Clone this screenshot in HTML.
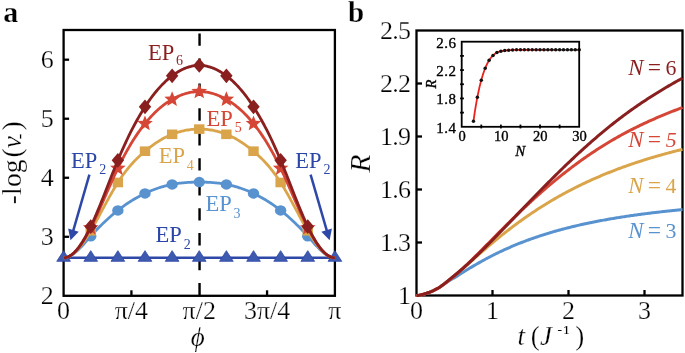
<!DOCTYPE html>
<html><head><meta charset="utf-8"><style>
html,body{margin:0;padding:0;background:#fff;}
body{width:685px;height:353px;overflow:hidden;font-family:"Liberation Serif",serif;}
svg{display:block;will-change:transform;}
</style></head><body>
<svg width="685" height="353" viewBox="0 0 685 353">
<rect x="63.6" y="30.0" width="271.30" height="265.80" fill="none" stroke="#000" stroke-width="2.3"/>
<line x1="63.6" y1="236.79" x2="69.10" y2="236.79" stroke="#000" stroke-width="2.3"/>
<line x1="63.6" y1="177.76" x2="69.10" y2="177.76" stroke="#000" stroke-width="2.3"/>
<line x1="63.6" y1="118.73" x2="69.10" y2="118.73" stroke="#000" stroke-width="2.3"/>
<line x1="63.6" y1="59.70" x2="69.10" y2="59.70" stroke="#000" stroke-width="2.3"/>
<line x1="131.42" y1="295.8" x2="131.42" y2="290.30" stroke="#000" stroke-width="2.3"/>
<line x1="267.07" y1="295.8" x2="267.07" y2="290.30" stroke="#000" stroke-width="2.3"/>
<line x1="199.55" y1="33.5" x2="199.55" y2="295.8" stroke="#000" stroke-width="2.4" stroke-dasharray="12.3 12.65"/>
<line x1="63.6" y1="257.8" x2="334.9" y2="257.8" stroke="#2E48A8" stroke-width="2.6"/>
<path d="M63.60,250.64 L70.45,261.34 L56.75,261.34Z" fill="#3E5AAF" stroke="#2E48A8" stroke-width="0.8" stroke-linejoin="miter"/>
<path d="M90.73,250.64 L97.58,261.34 L83.88,261.34Z" fill="#3E5AAF" stroke="#2E48A8" stroke-width="0.8" stroke-linejoin="miter"/>
<path d="M117.86,250.64 L124.71,261.34 L111.01,261.34Z" fill="#3E5AAF" stroke="#2E48A8" stroke-width="0.8" stroke-linejoin="miter"/>
<path d="M144.99,250.64 L151.84,261.34 L138.14,261.34Z" fill="#3E5AAF" stroke="#2E48A8" stroke-width="0.8" stroke-linejoin="miter"/>
<path d="M172.12,250.64 L178.97,261.34 L165.27,261.34Z" fill="#3E5AAF" stroke="#2E48A8" stroke-width="0.8" stroke-linejoin="miter"/>
<path d="M199.25,250.64 L206.10,261.34 L192.40,261.34Z" fill="#3E5AAF" stroke="#2E48A8" stroke-width="0.8" stroke-linejoin="miter"/>
<path d="M226.38,250.64 L233.23,261.34 L219.53,261.34Z" fill="#3E5AAF" stroke="#2E48A8" stroke-width="0.8" stroke-linejoin="miter"/>
<path d="M253.51,250.64 L260.36,261.34 L246.66,261.34Z" fill="#3E5AAF" stroke="#2E48A8" stroke-width="0.8" stroke-linejoin="miter"/>
<path d="M280.64,250.64 L287.49,261.34 L273.79,261.34Z" fill="#3E5AAF" stroke="#2E48A8" stroke-width="0.8" stroke-linejoin="miter"/>
<path d="M307.77,250.64 L314.62,261.34 L300.92,261.34Z" fill="#3E5AAF" stroke="#2E48A8" stroke-width="0.8" stroke-linejoin="miter"/>
<path d="M334.90,250.64 L341.75,261.34 L328.05,261.34Z" fill="#3E5AAF" stroke="#2E48A8" stroke-width="0.8" stroke-linejoin="miter"/>
<path d="M63.60,257.80 L64.96,257.71 L66.33,257.46 L67.69,257.06 L69.05,256.51 L70.42,255.82 L71.78,255.01 L73.14,254.09 L74.51,253.05 L75.87,251.93 L77.23,250.71 L78.60,249.43 L79.96,248.07 L81.32,246.66 L82.69,245.20 L84.05,243.71 L85.41,242.19 L86.78,240.66 L88.14,239.11 L89.50,237.57 L90.87,236.05 L92.23,234.54 L93.59,233.06 L94.96,231.60 L96.32,230.16 L97.68,228.74 L99.05,227.35 L100.41,225.98 L101.77,224.63 L103.14,223.30 L104.50,222.00 L105.86,220.71 L107.23,219.45 L108.59,218.22 L109.95,217.00 L111.32,215.81 L112.68,214.64 L114.04,213.49 L115.41,212.37 L116.77,211.26 L118.13,210.19 L119.50,209.13 L120.86,208.10 L122.22,207.09 L123.59,206.10 L124.95,205.13 L126.31,204.19 L127.68,203.26 L129.04,202.36 L130.40,201.48 L131.77,200.63 L133.13,199.79 L134.49,198.98 L135.86,198.18 L137.22,197.41 L138.58,196.66 L139.95,195.93 L141.31,195.22 L142.67,194.53 L144.04,193.86 L145.40,193.21 L146.76,192.58 L148.13,191.97 L149.49,191.38 L150.85,190.81 L152.22,190.26 L153.58,189.73 L154.94,189.21 L156.31,188.72 L157.67,188.25 L159.03,187.79 L160.40,187.36 L161.76,186.94 L163.12,186.55 L164.49,186.17 L165.85,185.81 L167.21,185.47 L168.58,185.15 L169.94,184.85 L171.30,184.56 L172.67,184.30 L174.03,184.05 L175.39,183.82 L176.76,183.60 L178.12,183.41 L179.48,183.23 L180.85,183.06 L182.21,182.91 L183.57,182.77 L184.94,182.65 L186.30,182.55 L187.66,182.45 L189.03,182.37 L190.39,182.30 L191.75,182.24 L193.12,182.19 L194.48,182.15 L195.84,182.13 L197.21,182.11 L198.57,182.10 L199.93,182.10 L201.29,182.11 L202.66,182.13 L204.02,182.15 L205.38,182.19 L206.75,182.24 L208.11,182.30 L209.47,182.37 L210.84,182.45 L212.20,182.55 L213.56,182.65 L214.93,182.77 L216.29,182.91 L217.65,183.06 L219.02,183.23 L220.38,183.41 L221.74,183.60 L223.11,183.82 L224.47,184.05 L225.83,184.30 L227.20,184.56 L228.56,184.85 L229.92,185.15 L231.29,185.47 L232.65,185.81 L234.01,186.17 L235.38,186.55 L236.74,186.94 L238.10,187.36 L239.47,187.79 L240.83,188.25 L242.19,188.72 L243.56,189.21 L244.92,189.73 L246.28,190.26 L247.65,190.81 L249.01,191.38 L250.37,191.97 L251.74,192.58 L253.10,193.21 L254.46,193.86 L255.83,194.53 L257.19,195.22 L258.55,195.93 L259.92,196.66 L261.28,197.41 L262.64,198.18 L264.01,198.98 L265.37,199.79 L266.73,200.63 L268.10,201.48 L269.46,202.36 L270.82,203.26 L272.19,204.19 L273.55,205.13 L274.91,206.10 L276.28,207.09 L277.64,208.10 L279.00,209.13 L280.37,210.19 L281.73,211.26 L283.09,212.37 L284.46,213.49 L285.82,214.64 L287.18,215.81 L288.55,217.00 L289.91,218.22 L291.27,219.45 L292.64,220.71 L294.00,222.00 L295.36,223.30 L296.73,224.63 L298.09,225.98 L299.45,227.35 L300.82,228.74 L302.18,230.16 L303.54,231.60 L304.91,233.06 L306.27,234.54 L307.63,236.05 L309.00,237.57 L310.36,239.11 L311.72,240.66 L313.09,242.19 L314.45,243.71 L315.81,245.20 L317.18,246.66 L318.54,248.07 L319.90,249.43 L321.27,250.71 L322.63,251.93 L323.99,253.05 L325.36,254.09 L326.72,255.01 L328.08,255.82 L329.45,256.51 L330.81,257.06 L332.17,257.46 L333.54,257.71 L334.90,257.80" fill="none" stroke="#5892CF" stroke-width="2.8" stroke-linejoin="round"/>
<ellipse cx="90.73" cy="236.20" rx="5.7" ry="5.25" fill="#5892CF"/>
<ellipse cx="117.86" cy="210.40" rx="5.7" ry="5.25" fill="#5892CF"/>
<ellipse cx="144.99" cy="193.40" rx="5.7" ry="5.25" fill="#5892CF"/>
<ellipse cx="172.12" cy="184.40" rx="5.7" ry="5.25" fill="#5892CF"/>
<ellipse cx="199.25" cy="182.10" rx="5.7" ry="5.25" fill="#5892CF"/>
<ellipse cx="226.38" cy="184.40" rx="5.7" ry="5.25" fill="#5892CF"/>
<ellipse cx="253.51" cy="193.40" rx="5.7" ry="5.25" fill="#5892CF"/>
<ellipse cx="280.64" cy="210.40" rx="5.7" ry="5.25" fill="#5892CF"/>
<ellipse cx="307.77" cy="236.20" rx="5.7" ry="5.25" fill="#5892CF"/>
<path d="M63.60,257.80 L64.96,257.71 L66.33,257.45 L67.69,257.03 L69.05,256.45 L70.42,255.71 L71.78,254.83 L73.14,253.80 L74.51,252.65 L75.87,251.36 L77.23,249.96 L78.60,248.44 L79.96,246.80 L81.32,245.07 L82.69,243.24 L84.05,241.32 L85.41,239.31 L86.78,237.23 L88.14,235.07 L89.50,232.85 L90.87,230.57 L92.23,228.23 L93.59,225.85 L94.96,223.43 L96.32,220.97 L97.68,218.49 L99.05,215.98 L100.41,213.46 L101.77,210.93 L103.14,208.39 L104.50,205.86 L105.86,203.33 L107.23,200.83 L108.59,198.34 L109.95,195.88 L111.32,193.46 L112.68,191.08 L114.04,188.74 L115.41,186.46 L116.77,184.23 L118.13,182.07 L119.50,179.98 L120.86,177.96 L122.22,176.01 L123.59,174.12 L124.95,172.29 L126.31,170.52 L127.68,168.81 L129.04,167.15 L130.40,165.55 L131.77,164.00 L133.13,162.50 L134.49,161.04 L135.86,159.63 L137.22,158.27 L138.58,156.94 L139.95,155.66 L141.31,154.41 L142.67,153.19 L144.04,152.01 L145.40,150.86 L146.76,149.74 L148.13,148.64 L149.49,147.58 L150.85,146.54 L152.22,145.54 L153.58,144.57 L154.94,143.62 L156.31,142.70 L157.67,141.82 L159.03,140.96 L160.40,140.14 L161.76,139.34 L163.12,138.58 L164.49,137.84 L165.85,137.14 L167.21,136.47 L168.58,135.83 L169.94,135.21 L171.30,134.63 L172.67,134.08 L174.03,133.57 L175.39,133.08 L176.76,132.62 L178.12,132.19 L179.48,131.79 L180.85,131.42 L182.21,131.08 L183.57,130.77 L184.94,130.49 L186.30,130.23 L187.66,130.00 L189.03,129.80 L190.39,129.62 L191.75,129.47 L193.12,129.35 L194.48,129.25 L195.84,129.18 L197.21,129.13 L198.57,129.10 L199.93,129.10 L201.29,129.13 L202.66,129.18 L204.02,129.25 L205.38,129.35 L206.75,129.47 L208.11,129.62 L209.47,129.80 L210.84,130.00 L212.20,130.23 L213.56,130.49 L214.93,130.77 L216.29,131.08 L217.65,131.42 L219.02,131.79 L220.38,132.19 L221.74,132.62 L223.11,133.08 L224.47,133.57 L225.83,134.08 L227.20,134.63 L228.56,135.21 L229.92,135.83 L231.29,136.47 L232.65,137.14 L234.01,137.84 L235.38,138.58 L236.74,139.34 L238.10,140.14 L239.47,140.96 L240.83,141.82 L242.19,142.70 L243.56,143.62 L244.92,144.57 L246.28,145.54 L247.65,146.54 L249.01,147.58 L250.37,148.64 L251.74,149.74 L253.10,150.86 L254.46,152.01 L255.83,153.19 L257.19,154.41 L258.55,155.66 L259.92,156.94 L261.28,158.27 L262.64,159.63 L264.01,161.04 L265.37,162.50 L266.73,164.00 L268.10,165.55 L269.46,167.15 L270.82,168.81 L272.19,170.52 L273.55,172.29 L274.91,174.12 L276.28,176.01 L277.64,177.96 L279.00,179.98 L280.37,182.07 L281.73,184.23 L283.09,186.46 L284.46,188.74 L285.82,191.08 L287.18,193.46 L288.55,195.88 L289.91,198.34 L291.27,200.83 L292.64,203.33 L294.00,205.86 L295.36,208.39 L296.73,210.93 L298.09,213.46 L299.45,215.98 L300.82,218.49 L302.18,220.97 L303.54,223.43 L304.91,225.85 L306.27,228.23 L307.63,230.57 L309.00,232.85 L310.36,235.07 L311.72,237.23 L313.09,239.31 L314.45,241.32 L315.81,243.24 L317.18,245.07 L318.54,246.80 L319.90,248.44 L321.27,249.96 L322.63,251.36 L323.99,252.65 L325.36,253.80 L326.72,254.83 L328.08,255.71 L329.45,256.45 L330.81,257.03 L332.17,257.45 L333.54,257.71 L334.90,257.80" fill="none" stroke="#DAA54A" stroke-width="2.8" stroke-linejoin="round"/>
<rect x="85.53" y="226.00" width="10.4" height="9.6" fill="#DAA54A"/>
<rect x="112.66" y="177.70" width="10.4" height="9.6" fill="#DAA54A"/>
<rect x="139.79" y="146.40" width="10.4" height="9.6" fill="#DAA54A"/>
<rect x="166.92" y="129.50" width="10.4" height="9.6" fill="#DAA54A"/>
<rect x="194.05" y="124.30" width="10.4" height="9.6" fill="#DAA54A"/>
<rect x="221.18" y="129.50" width="10.4" height="9.6" fill="#DAA54A"/>
<rect x="248.31" y="146.40" width="10.4" height="9.6" fill="#DAA54A"/>
<rect x="275.44" y="177.70" width="10.4" height="9.6" fill="#DAA54A"/>
<rect x="302.57" y="226.00" width="10.4" height="9.6" fill="#DAA54A"/>
<path d="M63.60,257.80 L64.96,257.71 L66.33,257.43 L67.69,256.98 L69.05,256.36 L70.42,255.58 L71.78,254.63 L73.14,253.53 L74.51,252.28 L75.87,250.88 L77.23,249.35 L78.60,247.68 L79.96,245.88 L81.32,243.96 L82.69,241.93 L84.05,239.78 L85.41,237.52 L86.78,235.16 L88.14,232.71 L89.50,230.16 L90.87,227.53 L92.23,224.82 L93.59,222.04 L94.96,219.19 L96.32,216.28 L97.68,213.32 L99.05,210.32 L100.41,207.28 L101.77,204.21 L103.14,201.12 L104.50,198.02 L105.86,194.91 L107.23,191.79 L108.59,188.68 L109.95,185.59 L111.32,182.52 L112.68,179.48 L114.04,176.47 L115.41,173.50 L116.77,170.59 L118.13,167.73 L119.50,164.94 L120.86,162.21 L122.22,159.54 L123.59,156.93 L124.95,154.38 L126.31,151.90 L127.68,149.47 L129.04,147.10 L130.40,144.79 L131.77,142.54 L133.13,140.35 L134.49,138.21 L135.86,136.13 L137.22,134.10 L138.58,132.13 L139.95,130.22 L141.31,128.36 L142.67,126.55 L144.04,124.80 L145.40,123.09 L146.76,121.44 L148.13,119.85 L149.49,118.30 L150.85,116.80 L152.22,115.35 L153.58,113.95 L154.94,112.60 L156.31,111.29 L157.67,110.03 L159.03,108.82 L160.40,107.65 L161.76,106.53 L163.12,105.45 L164.49,104.42 L165.85,103.43 L167.21,102.48 L168.58,101.57 L169.94,100.70 L171.30,99.88 L172.67,99.09 L174.03,98.34 L175.39,97.63 L176.76,96.96 L178.12,96.33 L179.48,95.74 L180.85,95.19 L182.21,94.68 L183.57,94.21 L184.94,93.77 L186.30,93.38 L187.66,93.02 L189.03,92.71 L190.39,92.43 L191.75,92.20 L193.12,92.00 L194.48,91.84 L195.84,91.72 L197.21,91.64 L198.57,91.60 L199.93,91.60 L201.29,91.64 L202.66,91.72 L204.02,91.84 L205.38,92.00 L206.75,92.20 L208.11,92.43 L209.47,92.71 L210.84,93.02 L212.20,93.38 L213.56,93.77 L214.93,94.21 L216.29,94.68 L217.65,95.19 L219.02,95.74 L220.38,96.33 L221.74,96.96 L223.11,97.63 L224.47,98.34 L225.83,99.09 L227.20,99.88 L228.56,100.70 L229.92,101.57 L231.29,102.48 L232.65,103.43 L234.01,104.42 L235.38,105.45 L236.74,106.53 L238.10,107.65 L239.47,108.82 L240.83,110.03 L242.19,111.29 L243.56,112.60 L244.92,113.95 L246.28,115.35 L247.65,116.80 L249.01,118.30 L250.37,119.85 L251.74,121.44 L253.10,123.09 L254.46,124.80 L255.83,126.55 L257.19,128.36 L258.55,130.22 L259.92,132.13 L261.28,134.10 L262.64,136.13 L264.01,138.21 L265.37,140.35 L266.73,142.54 L268.10,144.79 L269.46,147.10 L270.82,149.47 L272.19,151.90 L273.55,154.38 L274.91,156.93 L276.28,159.54 L277.64,162.21 L279.00,164.94 L280.37,167.73 L281.73,170.59 L283.09,173.50 L284.46,176.47 L285.82,179.48 L287.18,182.52 L288.55,185.59 L289.91,188.68 L291.27,191.79 L292.64,194.91 L294.00,198.02 L295.36,201.12 L296.73,204.21 L298.09,207.28 L299.45,210.32 L300.82,213.32 L302.18,216.28 L303.54,219.19 L304.91,222.04 L306.27,224.82 L307.63,227.53 L309.00,230.16 L310.36,232.71 L311.72,235.16 L313.09,237.52 L314.45,239.78 L315.81,241.93 L317.18,243.96 L318.54,245.88 L319.90,247.68 L321.27,249.35 L322.63,250.88 L323.99,252.28 L325.36,253.53 L326.72,254.63 L328.08,255.58 L329.45,256.36 L330.81,256.98 L332.17,257.43 L333.54,257.71 L334.90,257.80" fill="none" stroke="#D54636" stroke-width="2.8" stroke-linejoin="round"/>
<path d="M90.73,219.60 L92.85,224.89 L98.53,225.27 L94.15,228.91 L95.55,234.43 L90.73,231.40 L85.91,234.43 L87.31,228.91 L82.93,225.27 L88.61,224.89Z" fill="#D54636"/>
<path d="M117.86,160.10 L119.98,165.39 L125.66,165.77 L121.28,169.41 L122.68,174.93 L117.86,171.90 L113.04,174.93 L114.44,169.41 L110.06,165.77 L115.74,165.39Z" fill="#D54636"/>
<path d="M144.99,115.40 L147.11,120.69 L152.79,121.07 L148.41,124.71 L149.81,130.23 L144.99,127.20 L140.17,130.23 L141.57,124.71 L137.19,121.07 L142.87,120.69Z" fill="#D54636"/>
<path d="M172.12,91.20 L174.24,96.49 L179.92,96.87 L175.54,100.51 L176.94,106.03 L172.12,103.00 L167.30,106.03 L168.70,100.51 L164.32,96.87 L170.00,96.49Z" fill="#D54636"/>
<path d="M199.25,83.40 L201.37,88.69 L207.05,89.07 L202.67,92.71 L204.07,98.23 L199.25,95.20 L194.43,98.23 L195.83,92.71 L191.45,89.07 L197.13,88.69Z" fill="#D54636"/>
<path d="M226.38,91.20 L228.50,96.49 L234.18,96.87 L229.80,100.51 L231.20,106.03 L226.38,103.00 L221.56,106.03 L222.96,100.51 L218.58,96.87 L224.26,96.49Z" fill="#D54636"/>
<path d="M253.51,115.40 L255.63,120.69 L261.31,121.07 L256.93,124.71 L258.33,130.23 L253.51,127.20 L248.69,130.23 L250.09,124.71 L245.71,121.07 L251.39,120.69Z" fill="#D54636"/>
<path d="M280.64,160.10 L282.76,165.39 L288.44,165.77 L284.06,169.41 L285.46,174.93 L280.64,171.90 L275.82,174.93 L277.22,169.41 L272.84,165.77 L278.52,165.39Z" fill="#D54636"/>
<path d="M307.77,219.60 L309.89,224.89 L315.57,225.27 L311.19,228.91 L312.59,234.43 L307.77,231.40 L302.95,234.43 L304.35,228.91 L299.97,225.27 L305.65,224.89Z" fill="#D54636"/>
<path d="M63.60,257.80 L64.96,257.71 L66.33,257.43 L67.69,256.98 L69.05,256.36 L70.42,255.57 L71.78,254.61 L73.14,253.49 L74.51,252.22 L75.87,250.80 L77.23,249.22 L78.60,247.51 L79.96,245.65 L81.32,243.66 L82.69,241.54 L84.05,239.29 L85.41,236.93 L86.78,234.44 L88.14,231.84 L89.50,229.13 L90.87,226.31 L92.23,223.40 L93.59,220.39 L94.96,217.30 L96.32,214.13 L97.68,210.89 L99.05,207.60 L100.41,204.25 L101.77,200.86 L103.14,197.43 L104.50,193.97 L105.86,190.49 L107.23,187.00 L108.59,183.51 L109.95,180.03 L111.32,176.55 L112.68,173.10 L114.04,169.67 L115.41,166.28 L116.77,162.94 L118.13,159.65 L119.50,156.41 L120.86,153.24 L122.22,150.13 L123.59,147.07 L124.95,144.08 L126.31,141.14 L127.68,138.26 L129.04,135.44 L130.40,132.68 L131.77,129.98 L133.13,127.34 L134.49,124.75 L135.86,122.22 L137.22,119.76 L138.58,117.35 L139.95,115.00 L141.31,112.70 L142.67,110.47 L144.04,108.29 L145.40,106.17 L146.76,104.11 L148.13,102.10 L149.49,100.16 L150.85,98.27 L152.22,96.43 L153.58,94.65 L154.94,92.93 L156.31,91.26 L157.67,89.65 L159.03,88.09 L160.40,86.58 L161.76,85.13 L163.12,83.73 L164.49,82.38 L165.85,81.09 L167.21,79.85 L168.58,78.66 L169.94,77.52 L171.30,76.43 L172.67,75.39 L174.03,74.40 L175.39,73.46 L176.76,72.58 L178.12,71.74 L179.48,70.96 L180.85,70.22 L182.21,69.54 L183.57,68.91 L184.94,68.33 L186.30,67.80 L187.66,67.32 L189.03,66.90 L190.39,66.53 L191.75,66.21 L193.12,65.94 L194.48,65.73 L195.84,65.57 L197.21,65.46 L198.57,65.41 L199.93,65.41 L201.29,65.46 L202.66,65.57 L204.02,65.73 L205.38,65.94 L206.75,66.21 L208.11,66.53 L209.47,66.90 L210.84,67.32 L212.20,67.80 L213.56,68.33 L214.93,68.91 L216.29,69.54 L217.65,70.22 L219.02,70.96 L220.38,71.74 L221.74,72.58 L223.11,73.46 L224.47,74.40 L225.83,75.39 L227.20,76.43 L228.56,77.52 L229.92,78.66 L231.29,79.85 L232.65,81.09 L234.01,82.38 L235.38,83.73 L236.74,85.13 L238.10,86.58 L239.47,88.09 L240.83,89.65 L242.19,91.26 L243.56,92.93 L244.92,94.65 L246.28,96.43 L247.65,98.27 L249.01,100.16 L250.37,102.10 L251.74,104.11 L253.10,106.17 L254.46,108.29 L255.83,110.47 L257.19,112.70 L258.55,115.00 L259.92,117.35 L261.28,119.76 L262.64,122.22 L264.01,124.75 L265.37,127.34 L266.73,129.98 L268.10,132.68 L269.46,135.44 L270.82,138.26 L272.19,141.14 L273.55,144.08 L274.91,147.07 L276.28,150.13 L277.64,153.24 L279.00,156.41 L280.37,159.65 L281.73,162.94 L283.09,166.28 L284.46,169.67 L285.82,173.10 L287.18,176.55 L288.55,180.03 L289.91,183.51 L291.27,187.00 L292.64,190.49 L294.00,193.97 L295.36,197.43 L296.73,200.86 L298.09,204.25 L299.45,207.60 L300.82,210.89 L302.18,214.13 L303.54,217.30 L304.91,220.39 L306.27,223.40 L307.63,226.31 L309.00,229.13 L310.36,231.84 L311.72,234.44 L313.09,236.93 L314.45,239.29 L315.81,241.54 L317.18,243.66 L318.54,245.65 L319.90,247.51 L321.27,249.22 L322.63,250.80 L323.99,252.22 L325.36,253.49 L326.72,254.61 L328.08,255.57 L329.45,256.36 L330.81,256.98 L332.17,257.43 L333.54,257.71 L334.90,257.80" fill="none" stroke="#8A1F1F" stroke-width="2.8" stroke-linejoin="round"/>
<path d="M90.73,219.20 L96.93,226.60 L90.73,234.00 L84.53,226.60Z" fill="#8A1F1F"/>
<path d="M117.86,152.90 L124.06,160.30 L117.86,167.70 L111.66,160.30Z" fill="#8A1F1F"/>
<path d="M144.99,99.40 L151.19,106.80 L144.99,114.20 L138.79,106.80Z" fill="#8A1F1F"/>
<path d="M172.12,68.40 L178.32,75.80 L172.12,83.20 L165.92,75.80Z" fill="#8A1F1F"/>
<path d="M199.25,58.00 L205.45,65.40 L199.25,72.80 L193.05,65.40Z" fill="#8A1F1F"/>
<path d="M226.38,68.40 L232.58,75.80 L226.38,83.20 L220.18,75.80Z" fill="#8A1F1F"/>
<path d="M253.51,99.40 L259.71,106.80 L253.51,114.20 L247.31,106.80Z" fill="#8A1F1F"/>
<path d="M280.64,152.90 L286.84,160.30 L280.64,167.70 L274.44,160.30Z" fill="#8A1F1F"/>
<path d="M307.77,219.20 L313.97,226.60 L307.77,234.00 L301.57,226.60Z" fill="#8A1F1F"/>
<line x1="89.40" y1="174.70" x2="73.13" y2="231.07" stroke="#2E48A8" stroke-width="2.5"/><path d="M70.50,240.20 L68.13,228.59 L78.70,231.64Z" fill="#2E48A8"/>
<line x1="310.60" y1="174.70" x2="326.95" y2="231.08" stroke="#2E48A8" stroke-width="2.5"/><path d="M329.60,240.20 L321.39,231.65 L331.96,228.58Z" fill="#2E48A8"/>
<rect x="416.5" y="30.50" width="266.00" height="265.00" fill="none" stroke="#000" stroke-width="2.3"/>
<line x1="416.5" y1="242.50" x2="422.00" y2="242.50" stroke="#000" stroke-width="2.3"/>
<line x1="416.5" y1="189.50" x2="422.00" y2="189.50" stroke="#000" stroke-width="2.3"/>
<line x1="416.5" y1="136.50" x2="422.00" y2="136.50" stroke="#000" stroke-width="2.3"/>
<line x1="416.5" y1="83.50" x2="422.00" y2="83.50" stroke="#000" stroke-width="2.3"/>
<line x1="492.50" y1="295.5" x2="492.50" y2="290" stroke="#000" stroke-width="2.3"/>
<line x1="568.50" y1="295.5" x2="568.50" y2="290" stroke="#000" stroke-width="2.3"/>
<line x1="644.50" y1="295.5" x2="644.50" y2="290" stroke="#000" stroke-width="2.3"/>
<path d="M416.50,295.50 L417.71,295.45 L418.93,295.30 L420.14,295.08 L421.36,294.79 L422.57,294.47 L423.79,294.12 L425.00,293.75 L426.22,293.36 L427.43,292.96 L428.65,292.53 L429.86,292.07 L431.08,291.59 L432.29,291.07 L433.50,290.52 L434.72,289.93 L435.93,289.31 L437.15,288.64 L438.36,287.94 L439.58,287.19 L440.79,286.41 L442.01,285.58 L443.22,284.74 L444.44,283.89 L445.65,283.04 L446.87,282.22 L448.08,281.43 L449.29,280.67 L450.51,279.94 L451.72,279.24 L452.94,278.55 L454.15,277.86 L455.37,277.15 L456.58,276.38 L457.80,275.61 L459.01,274.84 L460.23,274.07 L461.44,273.31 L462.66,272.55 L463.87,271.79 L465.08,271.04 L466.30,270.29 L467.51,269.54 L468.73,268.80 L469.94,268.07 L471.16,267.34 L472.37,266.62 L473.59,265.90 L474.80,265.19 L476.02,264.48 L477.23,263.78 L478.45,263.09 L479.66,262.40 L480.87,261.72 L482.09,261.04 L483.30,260.37 L484.52,259.71 L485.73,259.05 L486.95,258.40 L488.16,257.76 L489.38,257.12 L490.59,256.49 L491.81,255.87 L493.02,255.25 L494.24,254.64 L495.45,254.03 L496.66,253.43 L497.88,252.84 L499.09,252.26 L500.31,251.68 L501.52,251.10 L502.74,250.53 L503.95,249.97 L505.17,249.42 L506.38,248.87 L507.60,248.33 L508.81,247.79 L510.03,247.26 L511.24,246.73 L512.45,246.21 L513.67,245.70 L514.88,245.19 L516.10,244.69 L517.31,244.19 L518.53,243.70 L519.74,243.22 L520.96,242.74 L522.17,242.26 L523.39,241.79 L524.60,241.33 L525.82,240.87 L527.03,240.42 L528.24,239.97 L529.46,239.53 L530.67,239.09 L531.89,238.66 L533.10,238.23 L534.32,237.81 L535.53,237.39 L536.75,236.97 L537.96,236.56 L539.18,236.16 L540.39,235.76 L541.61,235.37 L542.82,234.98 L544.03,234.59 L545.25,234.21 L546.46,233.83 L547.68,233.46 L548.89,233.09 L550.11,232.72 L551.32,232.36 L552.54,232.01 L553.75,231.65 L554.97,231.31 L556.18,230.96 L557.39,230.62 L558.61,230.28 L559.82,229.95 L561.04,229.62 L562.25,229.30 L563.47,228.97 L564.68,228.65 L565.90,228.34 L567.11,228.03 L568.33,227.72 L569.54,227.42 L570.76,227.12 L571.97,226.82 L573.18,226.52 L574.40,226.23 L575.61,225.95 L576.83,225.66 L578.04,225.38 L579.26,225.10 L580.47,224.83 L581.69,224.55 L582.90,224.28 L584.12,224.02 L585.33,223.75 L586.55,223.49 L587.76,223.24 L588.97,222.98 L590.19,222.73 L591.40,222.48 L592.62,222.23 L593.83,221.99 L595.05,221.75 L596.26,221.51 L597.48,221.27 L598.69,221.04 L599.91,220.81 L601.12,220.58 L602.34,220.35 L603.55,220.13 L604.76,219.91 L605.98,219.69 L607.19,219.47 L608.41,219.26 L609.62,219.05 L610.84,218.84 L612.05,218.63 L613.27,218.42 L614.48,218.22 L615.70,218.02 L616.91,217.82 L618.13,217.62 L619.34,217.43 L620.55,217.24 L621.77,217.05 L622.98,216.86 L624.20,216.67 L625.41,216.48 L626.63,216.30 L627.84,216.12 L629.06,215.94 L630.27,215.76 L631.49,215.59 L632.70,215.42 L633.92,215.24 L635.13,215.07 L636.34,214.90 L637.56,214.74 L638.77,214.57 L639.99,214.41 L641.20,214.25 L642.42,214.09 L643.63,213.93 L644.85,213.77 L646.06,213.62 L647.28,213.46 L648.49,213.31 L649.71,213.16 L650.92,213.01 L652.13,212.86 L653.35,212.72 L654.56,212.57 L655.78,212.43 L656.99,212.29 L658.21,212.15 L659.42,212.01 L660.64,211.87 L661.85,211.74 L663.07,211.60 L664.28,211.47 L665.50,211.34 L666.71,211.20 L667.92,211.07 L669.14,210.95 L670.35,210.82 L671.57,210.69 L672.78,210.57 L674.00,210.44 L675.21,210.32 L676.43,210.20 L677.64,210.08 L678.86,209.96 L680.07,209.85 L681.29,209.73 L682.50,209.61" fill="none" stroke="#5892CF" stroke-width="3.0" stroke-linejoin="round"/>
<path d="M416.50,295.50 L417.71,295.45 L418.93,295.30 L420.14,295.08 L421.36,294.79 L422.57,294.47 L423.79,294.12 L425.00,293.75 L426.22,293.36 L427.43,292.96 L428.65,292.53 L429.86,292.07 L431.08,291.59 L432.29,291.07 L433.50,290.52 L434.72,289.93 L435.93,289.31 L437.15,288.64 L438.36,287.94 L439.58,287.19 L440.79,286.40 L442.01,285.57 L443.22,284.69 L444.44,283.77 L445.65,282.83 L446.87,281.86 L448.08,280.89 L449.29,279.89 L450.51,278.89 L451.72,277.89 L452.94,276.88 L454.15,275.86 L455.37,274.84 L456.58,273.82 L457.80,272.78 L459.01,271.74 L460.23,270.70 L461.44,269.65 L462.66,268.59 L463.87,267.54 L465.08,266.48 L466.30,265.41 L467.51,264.35 L468.73,263.29 L469.94,262.22 L471.16,261.15 L472.37,260.09 L473.59,259.03 L474.80,257.96 L476.02,256.90 L477.23,255.84 L478.45,254.78 L479.66,253.73 L480.87,252.68 L482.09,251.63 L483.30,250.58 L484.52,249.54 L485.73,248.50 L486.95,247.46 L488.16,246.43 L489.38,245.41 L490.59,244.39 L491.81,243.37 L493.02,242.36 L494.24,241.35 L495.45,240.35 L496.66,239.35 L497.88,238.36 L499.09,237.38 L500.31,236.40 L501.52,235.42 L502.74,234.45 L503.95,233.49 L505.17,232.54 L506.38,231.58 L507.60,230.64 L508.81,229.70 L510.03,228.77 L511.24,227.84 L512.45,226.92 L513.67,226.01 L514.88,225.10 L516.10,224.20 L517.31,223.30 L518.53,222.41 L519.74,221.53 L520.96,220.66 L522.17,219.79 L523.39,218.92 L524.60,218.06 L525.82,217.21 L527.03,216.37 L528.24,215.53 L529.46,214.70 L530.67,213.87 L531.89,213.05 L533.10,212.24 L534.32,211.43 L535.53,210.63 L536.75,209.84 L537.96,209.05 L539.18,208.27 L540.39,207.49 L541.61,206.72 L542.82,205.96 L544.03,205.20 L545.25,204.45 L546.46,203.70 L547.68,202.96 L548.89,202.22 L550.11,201.50 L551.32,200.77 L552.54,200.06 L553.75,199.35 L554.97,198.64 L556.18,197.94 L557.39,197.25 L558.61,196.56 L559.82,195.88 L561.04,195.20 L562.25,194.53 L563.47,193.86 L564.68,193.20 L565.90,192.55 L567.11,191.90 L568.33,191.26 L569.54,190.62 L570.76,189.98 L571.97,189.35 L573.18,188.73 L574.40,188.11 L575.61,187.50 L576.83,186.89 L578.04,186.29 L579.26,185.69 L580.47,185.10 L581.69,184.51 L582.90,183.93 L584.12,183.35 L585.33,182.78 L586.55,182.21 L587.76,181.64 L588.97,181.08 L590.19,180.53 L591.40,179.98 L592.62,179.43 L593.83,178.89 L595.05,178.36 L596.26,177.83 L597.48,177.30 L598.69,176.77 L599.91,176.26 L601.12,175.74 L602.34,175.23 L603.55,174.72 L604.76,174.22 L605.98,173.73 L607.19,173.23 L608.41,172.74 L609.62,172.26 L610.84,171.78 L612.05,171.30 L613.27,170.82 L614.48,170.35 L615.70,169.89 L616.91,169.43 L618.13,168.97 L619.34,168.51 L620.55,168.06 L621.77,167.62 L622.98,167.17 L624.20,166.73 L625.41,166.30 L626.63,165.87 L627.84,165.44 L629.06,165.01 L630.27,164.59 L631.49,164.17 L632.70,163.76 L633.92,163.35 L635.13,162.94 L636.34,162.53 L637.56,162.13 L638.77,161.73 L639.99,161.34 L641.20,160.95 L642.42,160.56 L643.63,160.17 L644.85,159.79 L646.06,159.41 L647.28,159.03 L648.49,158.66 L649.71,158.29 L650.92,157.92 L652.13,157.56 L653.35,157.20 L654.56,156.84 L655.78,156.49 L656.99,156.13 L658.21,155.78 L659.42,155.44 L660.64,155.09 L661.85,154.75 L663.07,154.41 L664.28,154.08 L665.50,153.74 L666.71,153.41 L667.92,153.09 L669.14,152.76 L670.35,152.44 L671.57,152.12 L672.78,151.80 L674.00,151.48 L675.21,151.17 L676.43,150.86 L677.64,150.55 L678.86,150.25 L680.07,149.95 L681.29,149.65 L682.50,149.35" fill="none" stroke="#DAA54A" stroke-width="3.0" stroke-linejoin="round"/>
<path d="M416.50,295.50 L417.71,295.45 L418.93,295.30 L420.14,295.08 L421.36,294.79 L422.57,294.47 L423.79,294.12 L425.00,293.75 L426.22,293.36 L427.43,292.96 L428.65,292.53 L429.86,292.07 L431.08,291.59 L432.29,291.07 L433.50,290.52 L434.72,289.93 L435.93,289.31 L437.15,288.64 L438.36,287.94 L439.58,287.19 L440.79,286.41 L442.01,285.59 L443.22,284.74 L444.44,283.86 L445.65,282.96 L446.87,282.04 L448.08,281.11 L449.29,280.16 L450.51,279.19 L451.72,278.21 L452.94,277.22 L454.15,276.20 L455.37,275.16 L456.58,274.09 L457.80,273.02 L459.01,271.93 L460.23,270.82 L461.44,269.71 L462.66,268.58 L463.87,267.45 L465.08,266.30 L466.30,265.15 L467.51,263.98 L468.73,262.81 L469.94,261.64 L471.16,260.45 L472.37,259.26 L473.59,258.06 L474.80,256.86 L476.02,255.66 L477.23,254.45 L478.45,253.23 L479.66,252.02 L480.87,250.80 L482.09,249.57 L483.30,248.35 L484.52,247.12 L485.73,245.90 L486.95,244.67 L488.16,243.44 L489.38,242.21 L490.59,240.98 L491.81,239.75 L493.02,238.52 L494.24,237.29 L495.45,236.06 L496.66,234.84 L497.88,233.61 L499.09,232.39 L500.31,231.17 L501.52,229.95 L502.74,228.73 L503.95,227.52 L505.17,226.31 L506.38,225.10 L507.60,223.90 L508.81,222.69 L510.03,221.50 L511.24,220.30 L512.45,219.11 L513.67,217.92 L514.88,216.74 L516.10,215.56 L517.31,214.39 L518.53,213.22 L519.74,212.05 L520.96,210.89 L522.17,209.73 L523.39,208.58 L524.60,207.44 L525.82,206.29 L527.03,205.16 L528.24,204.03 L529.46,202.90 L530.67,201.78 L531.89,200.67 L533.10,199.56 L534.32,198.45 L535.53,197.35 L536.75,196.26 L537.96,195.17 L539.18,194.09 L540.39,193.02 L541.61,191.95 L542.82,190.88 L544.03,189.82 L545.25,188.77 L546.46,187.73 L547.68,186.69 L548.89,185.65 L550.11,184.62 L551.32,183.60 L552.54,182.59 L553.75,181.58 L554.97,180.57 L556.18,179.57 L557.39,178.58 L558.61,177.60 L559.82,176.62 L561.04,175.64 L562.25,174.68 L563.47,173.72 L564.68,172.76 L565.90,171.81 L567.11,170.87 L568.33,169.94 L569.54,169.01 L570.76,168.08 L571.97,167.16 L573.18,166.25 L574.40,165.35 L575.61,164.45 L576.83,163.56 L578.04,162.67 L579.26,161.79 L580.47,160.91 L581.69,160.04 L582.90,159.18 L584.12,158.32 L585.33,157.47 L586.55,156.63 L587.76,155.79 L588.97,154.96 L590.19,154.13 L591.40,153.31 L592.62,152.49 L593.83,151.69 L595.05,150.88 L596.26,150.08 L597.48,149.29 L598.69,148.51 L599.91,147.73 L601.12,146.95 L602.34,146.19 L603.55,145.43 L604.76,144.67 L605.98,143.93 L607.19,143.19 L608.41,142.46 L609.62,141.73 L610.84,141.01 L612.05,140.29 L613.27,139.59 L614.48,138.88 L615.70,138.19 L616.91,137.50 L618.13,136.82 L619.34,136.14 L620.55,135.47 L621.77,134.80 L622.98,134.14 L624.20,133.48 L625.41,132.84 L626.63,132.19 L627.84,131.55 L629.06,130.92 L630.27,130.29 L631.49,129.67 L632.70,129.05 L633.92,128.44 L635.13,127.84 L636.34,127.23 L637.56,126.64 L638.77,126.05 L639.99,125.46 L641.20,124.88 L642.42,124.30 L643.63,123.73 L644.85,123.16 L646.06,122.60 L647.28,122.04 L648.49,121.48 L649.71,120.93 L650.92,120.38 L652.13,119.84 L653.35,119.31 L654.56,118.77 L655.78,118.24 L656.99,117.72 L658.21,117.19 L659.42,116.68 L660.64,116.16 L661.85,115.65 L663.07,115.14 L664.28,114.64 L665.50,114.14 L666.71,113.64 L667.92,113.15 L669.14,112.66 L670.35,112.17 L671.57,111.69 L672.78,111.21 L674.00,110.73 L675.21,110.26 L676.43,109.79 L677.64,109.32 L678.86,108.85 L680.07,108.39 L681.29,107.93 L682.50,107.47" fill="none" stroke="#D54636" stroke-width="3.0" stroke-linejoin="round"/>
<path d="M416.50,295.50 L417.71,295.45 L418.93,295.30 L420.14,295.08 L421.36,294.79 L422.57,294.47 L423.79,294.12 L425.00,293.75 L426.22,293.36 L427.43,292.96 L428.65,292.53 L429.86,292.07 L431.08,291.59 L432.29,291.07 L433.50,290.52 L434.72,289.93 L435.93,289.31 L437.15,288.64 L438.36,287.94 L439.58,287.19 L440.79,286.39 L442.01,285.52 L443.22,284.60 L444.44,283.64 L445.65,282.66 L446.87,281.67 L448.08,280.68 L449.29,279.68 L450.51,278.69 L451.72,277.70 L452.94,276.72 L454.15,275.73 L455.37,274.75 L456.58,273.75 L457.80,272.74 L459.01,271.73 L460.23,270.69 L461.44,269.65 L462.66,268.60 L463.87,267.53 L465.08,266.45 L466.30,265.37 L467.51,264.27 L468.73,263.16 L469.94,262.05 L471.16,260.92 L472.37,259.79 L473.59,258.65 L474.80,257.50 L476.02,256.34 L477.23,255.18 L478.45,254.01 L479.66,252.83 L480.87,251.65 L482.09,250.46 L483.30,249.26 L484.52,248.06 L485.73,246.85 L486.95,245.64 L488.16,244.42 L489.38,243.20 L490.59,241.98 L491.81,240.75 L493.02,239.52 L494.24,238.28 L495.45,237.04 L496.66,235.80 L497.88,234.55 L499.09,233.30 L500.31,232.05 L501.52,230.80 L502.74,229.54 L503.95,228.28 L505.17,227.02 L506.38,225.76 L507.60,224.50 L508.81,223.24 L510.03,221.97 L511.24,220.71 L512.45,219.44 L513.67,218.18 L514.88,216.91 L516.10,215.64 L517.31,214.38 L518.53,213.11 L519.74,211.84 L520.96,210.58 L522.17,209.31 L523.39,208.05 L524.60,206.79 L525.82,205.52 L527.03,204.26 L528.24,203.00 L529.46,201.75 L530.67,200.49 L531.89,199.23 L533.10,197.98 L534.32,196.73 L535.53,195.48 L536.75,194.23 L537.96,192.99 L539.18,191.75 L540.39,190.51 L541.61,189.27 L542.82,188.03 L544.03,186.80 L545.25,185.57 L546.46,184.35 L547.68,183.12 L548.89,181.90 L550.11,180.69 L551.32,179.47 L552.54,178.26 L553.75,177.06 L554.97,175.86 L556.18,174.66 L557.39,173.46 L558.61,172.27 L559.82,171.08 L561.04,169.90 L562.25,168.72 L563.47,167.54 L564.68,166.37 L565.90,165.20 L567.11,164.04 L568.33,162.88 L569.54,161.72 L570.76,160.57 L571.97,159.43 L573.18,158.29 L574.40,157.15 L575.61,156.02 L576.83,154.89 L578.04,153.77 L579.26,152.65 L580.47,151.54 L581.69,150.43 L582.90,149.32 L584.12,148.23 L585.33,147.13 L586.55,146.04 L587.76,144.96 L588.97,143.88 L590.19,142.81 L591.40,141.74 L592.62,140.68 L593.83,139.62 L595.05,138.57 L596.26,137.52 L597.48,136.48 L598.69,135.44 L599.91,134.41 L601.12,133.38 L602.34,132.37 L603.55,131.36 L604.76,130.35 L605.98,129.35 L607.19,128.36 L608.41,127.37 L609.62,126.40 L610.84,125.42 L612.05,124.46 L613.27,123.50 L614.48,122.54 L615.70,121.60 L616.91,120.66 L618.13,119.72 L619.34,118.79 L620.55,117.87 L621.77,116.95 L622.98,116.05 L624.20,115.14 L625.41,114.24 L626.63,113.35 L627.84,112.47 L629.06,111.59 L630.27,110.71 L631.49,109.85 L632.70,108.98 L633.92,108.13 L635.13,107.28 L636.34,106.43 L637.56,105.59 L638.77,104.76 L639.99,103.93 L641.20,103.11 L642.42,102.29 L643.63,101.48 L644.85,100.68 L646.06,99.88 L647.28,99.08 L648.49,98.29 L649.71,97.51 L650.92,96.73 L652.13,95.95 L653.35,95.18 L654.56,94.42 L655.78,93.66 L656.99,92.91 L658.21,92.16 L659.42,91.42 L660.64,90.68 L661.85,89.94 L663.07,89.21 L664.28,88.49 L665.50,87.77 L666.71,87.05 L667.92,86.34 L669.14,85.63 L670.35,84.93 L671.57,84.23 L672.78,83.54 L674.00,82.85 L675.21,82.16 L676.43,81.48 L677.64,80.80 L678.86,80.13 L680.07,79.46 L681.29,78.80 L682.50,78.13" fill="none" stroke="#8A1F1F" stroke-width="3.0" stroke-linejoin="round"/>
<rect x="453.7" y="39.7" width="127.50000000000006" height="89.1" fill="#fff"/>
<path d="M473.45,121.27 L473.80,118.80 L474.16,116.37 L474.51,114.00 L474.86,111.69 L475.22,109.44 L475.57,107.24 L475.93,105.11 L476.28,103.05 L476.63,101.06 L476.99,99.14 L477.34,97.29 L477.69,95.51 L478.05,93.77 L478.40,92.09 L478.76,90.45 L479.11,88.85 L479.46,87.31 L479.82,85.81 L480.17,84.37 L480.52,82.97 L480.88,81.62 L481.23,80.32 L481.58,79.07 L481.94,77.84 L482.29,76.65 L482.65,75.49 L483.00,74.36 L483.35,73.27 L483.71,72.22 L484.06,71.21 L484.41,70.23 L484.77,69.30 L485.12,68.41 L485.48,67.56 L485.83,66.74 L486.18,65.94 L486.54,65.16 L486.89,64.41 L487.24,63.68 L487.60,62.99 L487.95,62.32 L488.30,61.69 L488.66,61.09 L489.01,60.51 L489.37,59.97 L489.72,59.45 L490.07,58.94 L490.43,58.45 L490.78,57.98 L491.13,57.53 L491.49,57.10 L491.84,56.69 L492.19,56.30 L492.55,55.93 L492.90,55.58 L493.26,55.25 L493.61,54.93 L493.96,54.62 L494.32,54.32 L494.67,54.03 L495.02,53.75 L495.38,53.49 L495.73,53.25 L496.09,53.02 L496.44,52.81 L496.79,52.63 L497.15,52.46 L497.50,52.30 L497.85,52.15 L498.21,52.01 L498.56,51.88 L498.91,51.75 L499.27,51.64 L499.62,51.53 L499.98,51.42 L500.33,51.33 L500.68,51.24 L501.04,51.17 L501.39,51.09 L501.74,51.02 L502.10,50.96 L502.45,50.89 L502.81,50.84 L503.16,50.78 L503.51,50.73 L503.87,50.68 L504.22,50.63 L504.57,50.59 L504.93,50.55 L505.28,50.51 L505.63,50.47 L505.99,50.43 L506.34,50.40 L506.70,50.37 L507.05,50.34 L507.40,50.31 L507.76,50.28 L508.11,50.25 L508.46,50.23 L508.82,50.20 L509.17,50.18 L509.53,50.16 L509.88,50.14 L510.23,50.12 L510.59,50.10 L510.94,50.08 L511.29,50.06 L511.65,50.04 L512.00,50.02 L512.35,50.01 L512.71,49.99 L513.06,49.98 L513.42,49.96 L513.77,49.95 L514.12,49.93 L514.48,49.92 L514.83,49.91 L515.18,49.90 L515.54,49.88 L515.89,49.87 L516.25,49.86 L516.60,49.85 L516.95,49.85 L517.31,49.84 L517.66,49.83 L518.01,49.82 L518.37,49.81 L518.72,49.80 L519.07,49.80 L519.43,49.79 L519.78,49.79 L520.14,49.79 L520.49,49.78 L520.84,49.78 L521.20,49.78 L521.55,49.78 L521.90,49.78 L522.26,49.78 L522.61,49.78 L522.97,49.78 L523.32,49.78 L523.67,49.78 L524.03,49.78 L524.38,49.78 L524.73,49.78 L525.09,49.78 L525.44,49.78 L525.79,49.78 L526.15,49.78 L526.50,49.78 L526.86,49.78 L527.21,49.78 L527.56,49.78 L527.92,49.78 L528.27,49.78 L528.62,49.78 L528.98,49.78 L529.33,49.78 L529.68,49.78 L530.04,49.78 L530.39,49.78 L530.75,49.78 L531.10,49.78 L531.45,49.78 L531.81,49.78 L532.16,49.78 L532.51,49.78 L532.87,49.78 L533.22,49.78 L533.58,49.78 L533.93,49.78 L534.28,49.78 L534.64,49.78 L534.99,49.78 L535.34,49.78 L535.70,49.78 L536.05,49.78 L536.40,49.78 L536.76,49.78 L537.11,49.78 L537.47,49.78 L537.82,49.78 L538.17,49.78 L538.53,49.78 L538.88,49.78 L539.23,49.78 L539.59,49.78 L539.94,49.78 L540.30,49.78 L540.65,49.78 L541.00,49.78 L541.36,49.78 L541.71,49.78 L542.06,49.78 L542.42,49.78 L542.77,49.78 L543.12,49.78 L543.48,49.78 L543.83,49.78 L544.19,49.78 L544.54,49.78 L544.89,49.78 L545.25,49.78 L545.60,49.78 L545.95,49.78 L546.31,49.78 L546.66,49.78 L547.02,49.78 L547.37,49.78 L547.72,49.78 L548.08,49.78 L548.43,49.78 L548.78,49.78 L549.14,49.78 L549.49,49.78 L549.84,49.78 L550.20,49.78 L550.55,49.78 L550.91,49.78 L551.26,49.78 L551.61,49.78 L551.97,49.78 L552.32,49.78 L552.67,49.78 L553.03,49.78 L553.38,49.78 L553.74,49.78 L554.09,49.78 L554.44,49.78 L554.80,49.78 L555.15,49.78 L555.50,49.78 L555.86,49.78 L556.21,49.78 L556.56,49.78 L556.92,49.78 L557.27,49.78 L557.63,49.78 L557.98,49.78 L558.33,49.78 L558.69,49.78 L559.04,49.78 L559.39,49.78 L559.75,49.78 L560.10,49.78 L560.46,49.78 L560.81,49.78 L561.16,49.78 L561.52,49.78 L561.87,49.78 L562.22,49.78 L562.58,49.78 L562.93,49.78 L563.28,49.78 L563.64,49.78 L563.99,49.78 L564.35,49.78 L564.70,49.78 L565.05,49.78 L565.41,49.78 L565.76,49.78 L566.11,49.78 L566.47,49.78 L566.82,49.78 L567.17,49.78 L567.53,49.78 L567.88,49.78 L568.24,49.78 L568.59,49.78 L568.94,49.78 L569.30,49.78 L569.65,49.78 L570.00,49.78 L570.36,49.78 L570.71,49.78 L571.07,49.78 L571.42,49.78 L571.77,49.78 L572.13,49.78 L572.48,49.78 L572.83,49.78 L573.19,49.78 L573.54,49.78 L573.89,49.78 L574.25,49.78 L574.60,49.78 L574.96,49.78 L575.31,49.78 L575.66,49.78 L576.02,49.78 L576.37,49.78 L576.72,49.78 L577.08,49.78 L577.43,49.78 L577.79,49.78 L578.14,49.78 L578.49,49.78 L578.85,49.78 L579.20,49.78" fill="none" stroke="#E8231E" stroke-width="1.8"/>
<circle cx="473.45" cy="121.27" r="1.75" fill="#111"/>
<circle cx="477.37" cy="97.16" r="1.75" fill="#111"/>
<circle cx="481.28" cy="80.14" r="1.75" fill="#111"/>
<circle cx="485.20" cy="68.22" r="1.75" fill="#111"/>
<circle cx="489.12" cy="60.35" r="1.75" fill="#111"/>
<circle cx="493.03" cy="55.46" r="1.75" fill="#111"/>
<circle cx="496.95" cy="52.55" r="1.75" fill="#111"/>
<circle cx="500.87" cy="51.20" r="1.75" fill="#111"/>
<circle cx="504.78" cy="50.56" r="1.75" fill="#111"/>
<circle cx="508.70" cy="50.21" r="1.75" fill="#111"/>
<circle cx="512.62" cy="50.00" r="1.75" fill="#111"/>
<circle cx="516.53" cy="49.86" r="1.75" fill="#111"/>
<circle cx="520.45" cy="49.78" r="1.75" fill="#111"/>
<circle cx="524.37" cy="49.78" r="1.75" fill="#111"/>
<circle cx="528.28" cy="49.78" r="1.75" fill="#111"/>
<circle cx="532.20" cy="49.78" r="1.75" fill="#111"/>
<circle cx="536.12" cy="49.78" r="1.75" fill="#111"/>
<circle cx="540.03" cy="49.78" r="1.75" fill="#111"/>
<circle cx="543.95" cy="49.78" r="1.75" fill="#111"/>
<circle cx="547.87" cy="49.78" r="1.75" fill="#111"/>
<circle cx="551.78" cy="49.78" r="1.75" fill="#111"/>
<circle cx="555.70" cy="49.78" r="1.75" fill="#111"/>
<circle cx="559.62" cy="49.78" r="1.75" fill="#111"/>
<circle cx="563.53" cy="49.78" r="1.75" fill="#111"/>
<circle cx="567.45" cy="49.78" r="1.75" fill="#111"/>
<circle cx="571.37" cy="49.78" r="1.75" fill="#111"/>
<circle cx="575.28" cy="49.78" r="1.75" fill="#111"/>
<circle cx="579.20" cy="49.78" r="1.75" fill="#111"/>
<rect x="461.7" y="41.7" width="117.50" height="85.10" fill="none" stroke="#000" stroke-width="1.8"/>
<line x1="460.10" y1="112.62" x2="463.90" y2="112.62" stroke="#000" stroke-width="1.8"/>
<line x1="460.10" y1="98.43" x2="463.90" y2="98.43" stroke="#000" stroke-width="1.8"/>
<line x1="460.10" y1="84.25" x2="463.90" y2="84.25" stroke="#000" stroke-width="1.8"/>
<line x1="460.10" y1="70.07" x2="463.90" y2="70.07" stroke="#000" stroke-width="1.8"/>
<line x1="460.10" y1="55.88" x2="463.90" y2="55.88" stroke="#000" stroke-width="1.8"/>
<line x1="481.28" y1="128.40" x2="481.28" y2="124.60" stroke="#000" stroke-width="1.8"/>
<line x1="500.87" y1="128.40" x2="500.87" y2="124.60" stroke="#000" stroke-width="1.8"/>
<line x1="520.45" y1="128.40" x2="520.45" y2="124.60" stroke="#000" stroke-width="1.8"/>
<line x1="540.03" y1="128.40" x2="540.03" y2="124.60" stroke="#000" stroke-width="1.8"/>
<line x1="559.62" y1="128.40" x2="559.62" y2="124.60" stroke="#000" stroke-width="1.8"/>
<g font-family="Liberation Serif" stroke="#fff" stroke-width="0.25">
<text x="3.14" y="22.00" font-size="30" fill="#000" font-weight="bold">a</text>
<text x="347.94" y="21.60" font-size="29" fill="#000" font-weight="bold">b</text>
<text x="53.80" y="304.42" font-size="26" text-anchor="end" fill="#000" >2</text>
<text x="53.80" y="245.39" font-size="26" text-anchor="end" fill="#000" >3</text>
<text x="53.80" y="186.36" font-size="26" text-anchor="end" fill="#000" >4</text>
<text x="53.80" y="127.33" font-size="26" text-anchor="end" fill="#000" >5</text>
<text x="53.80" y="68.30" font-size="26" text-anchor="end" fill="#000" >6</text>
<text x="63.60" y="318.60" font-size="26" text-anchor="middle" fill="#000" >0</text>
<text x="131.42" y="318.60" font-size="26" text-anchor="middle" fill="#000" >π/4</text>
<text x="199.25" y="318.60" font-size="26" text-anchor="middle" fill="#000" >π/2</text>
<text x="267.07" y="318.60" font-size="26" text-anchor="middle" fill="#000" >3π/4</text>
<text x="334.90" y="318.60" font-size="26" text-anchor="middle" fill="#000" >π</text>
<text x="190.82" y="345.50" font-size="27" fill="#000" font-style="italic">ϕ</text>
<text transform="translate(21.00,199.75) rotate(-90)" x="-4.59" y="0" font-size="27.5" fill="#000">-</text>
<text transform="translate(21.00,191.10) rotate(-90)" x="-3.82" y="0" font-size="27.5" fill="#000">l</text>
<text transform="translate(21.00,180.20) rotate(-90)" x="-6.88" y="0" font-size="27.5" fill="#000">o</text>
<text transform="translate(21.00,166.00) rotate(-90)" x="-7.20" y="0" font-size="27.5" fill="#000">g</text>
<text transform="translate(21.00,152.70) rotate(-90)" x="-4.74" y="0" font-size="27.5" fill="#000">(</text>
<text transform="translate(21.00,141.85) rotate(-90)" x="-6.29" y="0" font-size="27.5" fill="#000" font-style="italic">ν</text>
<text transform="translate(21.00,126.00) rotate(-90)" x="-4.42" y="0" font-size="27.5" fill="#000">)</text>
<text transform="translate(25.30,136.45) rotate(-90)" x="-3.01" y="0" font-size="18" fill="#000">-</text>
<text x="147.90" y="59.70" font-size="22.5" fill="#8A1F1F" stroke="none">EP<tspan font-size="14" dx="1.9" dy="5.7" stroke="none">6</tspan></text>
<text x="206.50" y="125.90" font-size="22.5" fill="#D54636" stroke="none">EP<tspan font-size="14" dx="1.9" dy="5.9" stroke="none">5</tspan></text>
<text x="158.70" y="163.00" font-size="22.5" fill="#DAA54A" stroke="none">EP<tspan font-size="14" dx="1.9" dy="6.8" stroke="none">4</tspan></text>
<text x="205.40" y="210.80" font-size="22.5" fill="#5892CF" stroke="none">EP<tspan font-size="14" dx="1.9" dy="6.8" stroke="none">3</tspan></text>
<text x="155.50" y="242.20" font-size="22.5" fill="#2B46A6" stroke="none">EP<tspan font-size="14" dx="1.9" dy="6.8" stroke="none">2</tspan></text>
<text x="71.10" y="167.60" font-size="22.5" fill="#2B46A6" stroke="none">EP<tspan font-size="14" dx="1.9" dy="6.8" stroke="none">2</tspan></text>
<text x="295.30" y="167.60" font-size="22.5" fill="#2B46A6" stroke="none">EP<tspan font-size="14" dx="1.9" dy="6.8" stroke="none">2</tspan></text>
<text x="410.20" y="304.10" font-size="26" text-anchor="end" fill="#000" letter-spacing="-0.8">1</text>
<text x="410.20" y="251.10" font-size="26" text-anchor="end" fill="#000" letter-spacing="-0.8">1.3</text>
<text x="410.20" y="198.10" font-size="26" text-anchor="end" fill="#000" letter-spacing="-0.8">1.6</text>
<text x="410.20" y="145.10" font-size="26" text-anchor="end" fill="#000" letter-spacing="-0.8">1.9</text>
<text x="410.20" y="92.10" font-size="26" text-anchor="end" fill="#000" letter-spacing="-0.8">2.2</text>
<text x="410.20" y="39.10" font-size="26" text-anchor="end" fill="#000" letter-spacing="-0.8">2.5</text>
<text x="416.50" y="319.20" font-size="26" text-anchor="middle" fill="#000" >0</text>
<text x="492.50" y="319.20" font-size="26" text-anchor="middle" fill="#000" >1</text>
<text x="568.50" y="319.20" font-size="26" text-anchor="middle" fill="#000" >2</text>
<text x="644.50" y="319.20" font-size="26" text-anchor="middle" fill="#000" >3</text>
<text x="517.59" y="344.80" font-size="27" fill="#000" font-style="italic">t</text>
<text x="530.80" y="345.00" font-size="27" fill="#000">(</text>
<text x="540.08" y="345.00" font-size="27" fill="#000" font-style="italic">J</text>
<text x="557.55" y="333.60" font-size="13.5" fill="#000" stroke="#000" stroke-width="0.12">-</text>
<text x="563.04" y="334.00" font-size="13.5" fill="#000" stroke="#000" stroke-width="0.12">1</text>
<text x="575.16" y="345.00" font-size="27" fill="#000">)</text>
<text transform="translate(369.80,163.80) rotate(-90)" x="-8.69" y="0" font-size="29.5" fill="#000" font-style="italic">R</text>
<g stroke="none">
<text x="628.15" y="74.60" font-size="22.8" fill="#8A1F1F" font-style="italic">N</text><text x="647.76" y="74.60" font-size="23.5" fill="#8A1F1F">=</text><text x="665.41" y="74.60" font-size="21.8" fill="#8A1F1F">6</text>
<text x="628.15" y="146.90" font-size="22.8" fill="#D54636" font-style="italic">N</text><text x="647.76" y="146.90" font-size="23.5" fill="#D54636">=</text><text x="665.70" y="146.90" font-size="21.8" fill="#D54636" font-style="italic">5</text>
<text x="628.15" y="192.80" font-size="22.8" fill="#DAA54A" font-style="italic">N</text><text x="647.76" y="192.80" font-size="23.5" fill="#DAA54A">=</text><text x="665.51" y="192.80" font-size="21.8" fill="#DAA54A">4</text>
<text x="628.15" y="237.50" font-size="22.8" fill="#5892CF" font-style="italic">N</text><text x="647.76" y="237.50" font-size="23.5" fill="#5892CF">=</text><text x="665.45" y="237.50" font-size="21.8" fill="#5892CF">3</text>
</g>
</g>
<g font-family="Liberation Serif" stroke="#000" stroke-width="0.35">
<text x="456.60" y="132.80" font-size="15" text-anchor="end" fill="#000" letter-spacing="0.5">1.4</text>
<text x="456.60" y="104.43" font-size="15" text-anchor="end" fill="#000" letter-spacing="0.5">1.8</text>
<text x="456.60" y="76.07" font-size="15" text-anchor="end" fill="#000" letter-spacing="0.5">2.2</text>
<text x="456.60" y="47.70" font-size="15" text-anchor="end" fill="#000" letter-spacing="0.5">2.6</text>
<text x="462.00" y="141.30" font-size="14.5" text-anchor="middle" fill="#000" >0</text>
<text x="501.17" y="141.30" font-size="14.5" text-anchor="middle" fill="#000" >10</text>
<text x="540.33" y="141.30" font-size="14.5" text-anchor="middle" fill="#000" >20</text>
<text x="579.50" y="141.30" font-size="14.5" text-anchor="middle" fill="#000" >30</text>
<text x="515.30" y="156.40" font-size="15" fill="#000" font-style="italic">N</text>
<text transform="translate(435.60,84.25) rotate(-90)" x="-4.27" y="0" font-size="14.5" fill="#000" font-style="italic">R</text>
</g>
</svg>
</body></html>
